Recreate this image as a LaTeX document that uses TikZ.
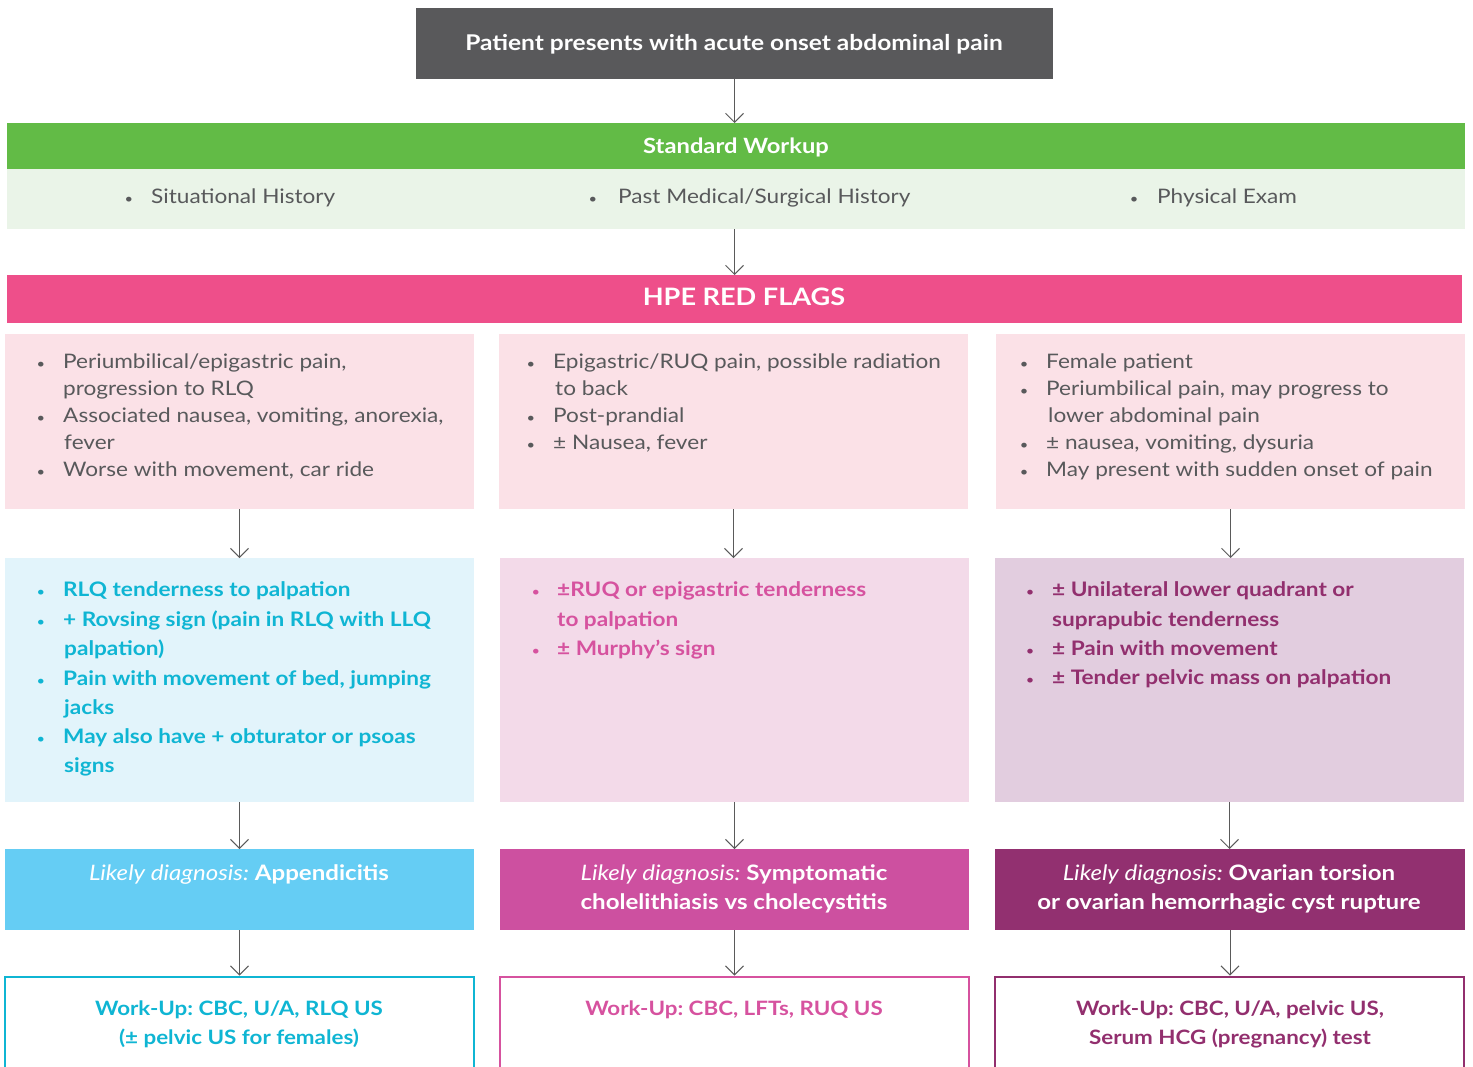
\documentclass[tikz,border=0pt]{standalone}
\usepackage{fontspec}
\setmainfont{Lato}[FakeStretch=1.13]
\usetikzlibrary{arrows.meta}
\definecolor{topgray}{HTML}{59595B}
\definecolor{arrowgray}{HTML}{5A5A5A}
\definecolor{stdgreen}{HTML}{62BB46}
\definecolor{lightgreen}{HTML}{EAF4E8}
\definecolor{hpepink}{HTML}{EE4F8A}
\definecolor{flagbg}{HTML}{FBE1E7}
\definecolor{txtgray}{HTML}{58595B}
\definecolor{bluebg}{HTML}{E2F4FB}
\definecolor{bluetxt}{HTML}{0FB5D3}
\definecolor{bluedx}{HTML}{65CDF4}
\definecolor{pinkbg}{HTML}{F3DAE9}
\definecolor{pinktxt}{HTML}{D6529F}
\definecolor{pinkdx}{HTML}{CD50A0}
\definecolor{purpbg}{HTML}{E2CDDF}
\definecolor{purptxt}{HTML}{922F6E}
\definecolor{purpdx}{HTML}{923070}
\begin{document}
\frenchspacing
\begin{tikzpicture}[x=1pt,y=-1pt,
  box/.style={rectangle, inner sep=0pt, outer sep=0pt, anchor=north west},
  arr/.style={draw=arrowgray, line width=1pt, -{Straight Barb[length=9pt,width=18pt,line width=1pt]}},
  body/.style={anchor=mid west, inner sep=0pt, yshift=-5pt, font=\fontsize{20}{24}\selectfont},
  bodyc/.style={anchor=mid, inner sep=0pt, yshift=-5pt, font=\fontsize{20}{24}\selectfont},
  gtxt/.style={body, text=txtgray},
  btxt/.style={body, text=bluetxt, font=\fontsize{20}{24}\selectfont\bfseries},
  ptxt/.style={body, text=pinktxt, font=\fontsize{20}{24}\selectfont\bfseries},
  utxt/.style={body, text=purptxt, font=\fontsize{20}{24}\selectfont\bfseries},
  bul/.style={anchor=mid, inner sep=0pt, yshift=-5pt, font=\fontsize{13}{15}\selectfont},
  dxtxt/.style={bodyc, text=white, font=\fontsize{21.3}{24}\selectfont\bfseries},
  wutxt/.style={bodyc, font=\fontsize{19.8}{24}\selectfont\bfseries},
]
\useasboundingbox (0,0) rectangle (1473,1066);
\clip (0,0) rectangle (1473,1066);

% top
\node[box, fill=topgray, minimum width=637pt, minimum height=71pt] (top) at (416,8) {};
\node[bodyc, text=white, font=\fontsize{21.7}{24}\selectfont\bfseries] (topt) at (734,43) {Patient presents with acute onset abdominal pain};

% standard workup
\node[box, fill=stdgreen, minimum width=1458pt, minimum height=46pt] (std) at (7,123) {};
\node[bodyc, text=white, font=\fontsize{21}{24}\selectfont\bfseries] (stdt) at (736,146) {Standard Workup};
\node[box, fill=lightgreen, minimum width=1458pt, minimum height=60pt] (stdbody) at (7,169) {};
\node[bul, text=txtgray] (sb1) at (129,196) {•};
\node[gtxt] (st1) at (151,196) {Situational History};
\node[bul, text=txtgray] (sb2) at (593,196) {•};
\node[gtxt] (st2) at (618,196) {Past Medical/Surgical History};
\node[bul, text=txtgray] (sb3) at (1134,196) {•};
\node[gtxt] (st3) at (1157,196) {Physical Exam};

% HPE red flags
\node[box, fill=hpepink, minimum width=1455pt, minimum height=48pt] (hpe) at (7,275) {};
\node[bodyc, text=white, font=\fontsize{24}{26}\selectfont\bfseries] (hpet) at (744,298) {HPE RED FLAGS};

% row 2 boxes
\node[box, fill=flagbg, minimum width=469pt, minimum height=175pt] (f1) at (5,334) {};
\node[box, fill=flagbg, minimum width=469pt, minimum height=175pt] (f2) at (499,334) {};
\node[box, fill=flagbg, minimum width=469pt, minimum height=175pt] (f3) at (996,334) {};

\node[bul, text=txtgray] (f1b1) at (41,361) {•};
\node[gtxt] (f1t1) at (63,361) {Periumbilical/epigastric pain,};
\node[gtxt] (f1t2) at (63,388) {progression to RLQ};
\node[bul, text=txtgray] (f1b2) at (41,415) {•};
\node[gtxt] (f1t3) at (63,415) {Associated nausea, vomiting, anorexia,};
\node[gtxt] (f1t4) at (64,442) {fever};
\node[bul, text=txtgray] (f1b3) at (41,469) {•};
\node[gtxt] (f1t5) at (63,469) {Worse with movement, car ride};

\node[bul, text=txtgray] (f2b1) at (531,361) {•};
\node[gtxt] (f2t1) at (553,361) {Epigastric/RUQ pain, possible radiation};
\node[gtxt] (f2t2) at (555,388) {to back};
\node[bul, text=txtgray] (f2b2) at (531,415) {•};
\node[gtxt] (f2t3) at (553,415) {Post-prandial};
\node[bul, text=txtgray] (f2b3) at (531,442) {•};
\node[gtxt] (f2t4) at (553,442) {± Nausea, fever};

\node[bul, text=txtgray] (f3b1) at (1024,361) {•};
\node[gtxt] (f3t1) at (1046,361) {Female patient};
\node[bul, text=txtgray] (f3b2) at (1024,388) {•};
\node[gtxt] (f3t2) at (1046,388) {Periumbilical pain, may progress to};
\node[gtxt] (f3t3) at (1048,415) {lower abdominal pain};
\node[bul, text=txtgray] (f3b3) at (1024,442) {•};
\node[gtxt] (f3t4) at (1046,442) {± nausea, vomiting, dysuria};
\node[bul, text=txtgray] (f3b4) at (1024,469) {•};
\node[gtxt] (f3t5) at (1046,469) {May present with sudden onset of pain};

% row 3 boxes
\node[box, fill=bluebg, minimum width=469pt, minimum height=244pt] (e1) at (5,558) {};
\node[box, fill=pinkbg, minimum width=469pt, minimum height=244pt] (e2) at (500,558) {};
\node[box, fill=purpbg, minimum width=469pt, minimum height=244pt] (e3) at (995,558) {};

\node[bul, text=bluetxt] (e1b1) at (41,589) {•};
\node[btxt] (e1t1) at (63,589) {RLQ tenderness to palpation};
\node[bul, text=bluetxt] (e1b2) at (41,619) {•};
\node[btxt] (e1t2) at (63,619) {+ Rovsing sign (pain in RLQ with LLQ};
\node[btxt] (e1t3) at (64,648) {palpation)};
\node[bul, text=bluetxt] (e1b3) at (41,678) {•};
\node[btxt] (e1t4) at (63,678) {Pain with movement of bed, jumping};
\node[btxt] (e1t5) at (64,707) {jacks};
\node[bul, text=bluetxt] (e1b4) at (41,736) {•};
\node[btxt] (e1t6) at (63,736) {May also have + obturator or psoas};
\node[btxt] (e1t7) at (64,765) {signs};

\node[bul, text=pinktxt] (e2b1) at (536,589) {•};
\node[ptxt] (e2t1) at (557,589) {±RUQ or epigastric tenderness};
\node[ptxt] (e2t2) at (557,619) {to palpation};
\node[bul, text=pinktxt] (e2b2) at (536,648) {•};
\node[ptxt] (e2t3) at (557,648) {± Murphy’s sign};

\node[bul, text=purptxt] (e3b1) at (1030,589) {•};
\node[utxt] (e3t1) at (1052,589) {± Unilateral lower quadrant or};
\node[utxt] (e3t2) at (1052,619) {suprapubic tenderness};
\node[bul, text=purptxt] (e3b2) at (1030,648) {•};
\node[utxt] (e3t3) at (1052,648) {± Pain with movement};
\node[bul, text=purptxt] (e3b3) at (1030,677) {•};
\node[utxt] (e3t4) at (1052,677) {± Tender pelvic mass on palpation};

% row 4 likely diagnosis
\node[box, fill=bluedx, minimum width=469pt, minimum height=81pt] (d1) at (5,849) {};
\node[box, fill=pinkdx, minimum width=469pt, minimum height=81pt] (d2) at (500,849) {};
\node[box, fill=purpdx, minimum width=470pt, minimum height=81pt] (d3) at (995,849) {};

\node[dxtxt] (d1t1) at (239,873) {\textit{\mdseries Likely diagnosis:} Appendicitis};
\node[dxtxt] (d2t1) at (734,873) {\textit{\mdseries Likely diagnosis:} Symptomatic};
\node[dxtxt] (d2t2) at (734,902) {cholelithiasis vs cholecystitis};
\node[dxtxt] (d3t1) at (1229,873) {\textit{\mdseries Likely diagnosis:} Ovarian torsion};
\node[dxtxt] (d3t2) at (1229,902) {or ovarian hemorrhagic cyst rupture};

% row 5 work-up
\node[box, draw=bluetxt, line width=2.5pt, minimum width=469pt, minimum height=110pt] (w1) at (5,977) {};
\node[box, draw=pinktxt, line width=2.5pt, minimum width=469pt, minimum height=110pt] (w2) at (500,977) {};
\node[box, draw=purptxt, line width=2.5pt, minimum width=469pt, minimum height=110pt] (w3) at (995,977) {};

\node[wutxt, text=bluetxt] (w1t1) at (239,1008) {Work-Up: CBC, U/A, RLQ US};
\node[wutxt, text=bluetxt] (w1t2) at (239,1037) {(± pelvic US for females)};
\node[wutxt, text=pinktxt] (w2t1) at (734,1008) {Work-Up: CBC, LFTs, RUQ US};
\node[wutxt, text=purptxt] (w3t1) at (1230,1008) {Work-Up: CBC, U/A, pelvic US,};
\node[wutxt, text=purptxt] (w3t2) at (1230,1037) {Serum HCG (pregnancy) test};

% arrows
\draw[arr] (top.south) -- (top.south |- std.north);
\draw[arr] (stdbody.south -| top.south) -- (top.south |- hpe.north);
\draw[arr] (f1.south) -- (f1.south |- e1.north);
\draw[arr] (f2.south) -- (f2.south |- e2.north);
\draw[arr] (f3.south) -- (f3.south |- e3.north);
\draw[arr] (e1.south) -- (e1.south |- d1.north);
\draw[arr] (e2.south) -- (e2.south |- d2.north);
\draw[arr] (e3.south) -- (e3.south |- d3.north);
\draw[arr] (d1.south) -- ([yshift=1.5pt]d1.south |- w1.north);
\draw[arr] (d2.south) -- ([yshift=1.5pt]d2.south |- w2.north);
\draw[arr] (d3.south) -- ([yshift=1.5pt]d3.south |- w3.north);
\end{tikzpicture}
\end{document}
